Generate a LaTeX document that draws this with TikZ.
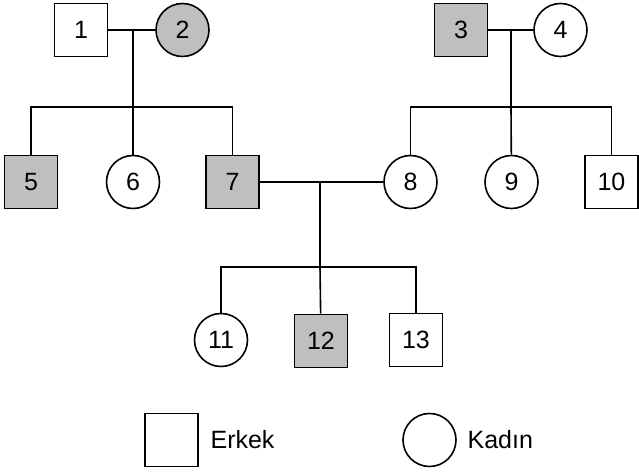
\documentclass[tikz,border=0pt]{standalone}
\usepackage{fontspec}
\setmainfont{Liberation Sans}
\usepackage{xcolor}
\usepackage{tikz}
\usetikzlibrary{positioning}
\definecolor{etki}{gray}{0.75}

\begin{document}
\begin{tikzpicture}[x=0.5pt,y=-0.5pt,line width=0.8pt,
  every node/.style={font=\fontsize{12.5}{14}\selectfont},
  erkek/.style={draw,rectangle,minimum size=26.5pt,inner sep=0pt},
  kadin/.style={draw,circle,minimum size=26.5pt,inner sep=0pt},
  hasta/.style={fill=etki}]
\useasboundingbox (0,0) rectangle (639,475);

% parents
\node (n1) at (81,30) [erkek] {1};
\node (n2) at (182.5,30) [kadin,hasta] {2};
\node (n3) at (461,30) [erkek,hasta] {3};
\node (n4) at (560.5,30) [kadin] {4};

% children
\node (n5) at (31,182) [erkek,hasta] {5};
\node (n6) at (133,182) [kadin] {6};
\node (n7) at (232.5,182) [erkek,hasta] {7};
\node (n8) at (410.5,182) [kadin] {8};
\node (n9) at (511.5,182) [kadin] {9};
\node (n10) at (611.5,182) [erkek] {10};

% grandchildren
\node (n11) at (221,340) [kadin] {11};
\node (n12) at (321,341) [erkek,hasta] {12};
\node (n13) at (416,340) [erkek] {13};

\coordinate (e12) at (133,30);
\coordinate (k12) at (133,107);
\coordinate (e34) at (511,30);
\coordinate (k34) at (511,107);
\coordinate (e78) at (320,182);
\coordinate (k78) at (320,267);

\draw (n1) -- (n2);
\draw (e12) -- (k12);
\draw (n5.north) |- (k12) -| (n7.north);
\draw (k12) -- (n6);

\draw (n3) -- (n4);
\draw (e34) -- (k34);
\draw (n8.north) |- (k34) -| (n10.north);
\draw (k34) -- (n9);

\draw (n7) -- (n8);
\draw (e78) -- (k78);
\draw (n11.north) |- (k78) -| (n13.north);
\draw (k78) -- (n12);

% legend
\node (lerkek) at (171.5,440) [erkek] {};
\node (terkek) [right=5.5pt of lerkek,inner sep=0pt] {Erkek};
\node (lkadin) at (429.5,440) [kadin] {};
\node (tkadin) [right=5pt of lkadin,inner sep=0pt] {Kadın};

\end{tikzpicture}
\end{document}
